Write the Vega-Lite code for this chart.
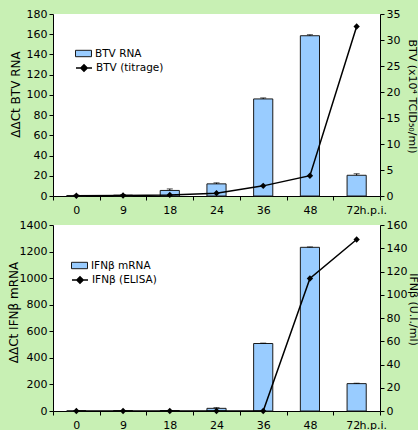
{
  "$schema": "https://vega.github.io/schema/vega-lite/v6.json",
  "background": "#c8f0b4",
  "autosize": {"type": "pad"},
  "padding": {"left": 7, "top": 8, "right": 0, "bottom": 0},
  "bounds": "flush",
  "spacing": 29,
  "config": {
    "font": "DejaVu Sans",
    "view": {"fill": "white", "stroke": null},
    "axis": {
      "grid": false,
      "domainColor": "black",
      "tickColor": "black",
      "labelColor": "black",
      "titleColor": "black",
      "labelFont": "DejaVu Sans",
      "titleFont": "DejaVu Sans",
      "labelFontSize": 11,
      "titleFontWeight": "normal",
      "tickSize": 4,
      "labelPadding": 2
    },
    "legend": {
      "labelFont": "DejaVu Sans",
      "labelFontSize": 10.5,
      "labelColor": "black",
      "padding": 0,
      "labelOffset": 3,
      "title": null
    }
  },
  "datasets": {
    "btv": [
      {"hpi": "0", "rna": 0.5, "err": 0.3, "titer": 0.05},
      {"hpi": "9", "rna": 0.8, "err": 0.3, "titer": 0.1},
      {"hpi": "18", "rna": 5.5, "err": 1.5, "titer": 0.2},
      {"hpi": "24", "rna": 12, "err": 1, "titer": 0.55},
      {"hpi": "36", "rna": 96, "err": 1, "titer": 1.95},
      {"hpi": "48", "rna": 158.5, "err": 1, "titer": 3.9},
      {"hpi": "72", "rna": 20.5, "err": 1.5, "titer": 32.6}
    ],
    "ifn": [
      {"hpi": "0", "mrna": 1, "err": 1, "elisa": 0},
      {"hpi": "9", "mrna": 2, "err": 1, "elisa": 0},
      {"hpi": "18", "mrna": 3, "err": 1, "elisa": 0},
      {"hpi": "24", "mrna": 20, "err": 5, "elisa": 0},
      {"hpi": "36", "mrna": 508, "err": 3, "elisa": 0},
      {"hpi": "48", "mrna": 1232, "err": 3, "elisa": 114},
      {"hpi": "72", "mrna": 206, "err": 3, "elisa": 147.5}
    ]
  },
  "resolve": {
    "scale": {"fill": "independent", "stroke": "independent", "y": "independent", "x": "independent"},
    "legend": {"fill": "independent", "stroke": "independent"}
  },
  "vconcat": [
    {
      "width": 327,
      "height": 182,
      "data": {"name": "btv"},
      "encoding": {
        "x": {
          "field": "hpi", "type": "ordinal", "sort": null,
          "scale": {"type": "band", "paddingInner": 0, "paddingOuter": 0},
          "axis": {
            "labelAngle": 0, "tickBand": "extent",
            "labelOffset": {"condition": {"test": "datum.value == '72'", "value": -4}, "value": 0},
            "title": "h.p.i.", "titleX": 306, "titleY": 17, "titleAlign": "left",
            "titleBaseline": "alphabetic", "titleAngle": 0, "titleFontSize": 11,
            "labelPadding": 4
          }
        }
      },
      "layer": [
        {
          "encoding": {
            "y": {
              "type": "quantitative",
              "scale": {"domain": [0, 180]},
              "axis": {
                "orient": "left",
                "values": [0, 20, 40, 60, 80, 100, 120, 140, 160, 180],
                "title": "ΔΔCt BTV RNA", "titleFontSize": 12,
                "titleX": -38, "titleY": 80, "titleAngle": -90,
                "titleAlign": "center", "titleBaseline": "middle"
              }
            }
          },
          "layer": [
            {
              "mark": {"type": "bar", "stroke": "#1a1a1a", "strokeWidth": 1, "width": {"band": 0.41}},
              "encoding": {
                "y": {"field": "rna", "type": "quantitative"},
                "fill": {
                  "datum": "BTV RNA",
                  "scale": {"range": ["#99ccff"]},
                  "legend": {
                    "orient": "none", "legendX": 22, "legendY": 31,
                    "symbolType": "M-1,-0.4H1V0.4H-1Z", "symbolSize": 256,
                    "symbolStrokeColor": "#1a1a1a", "symbolStrokeWidth": 1
                  }
                }
              }
            },
            {
              "transform": [{"calculate": "datum.rna + datum.err", "as": "hi"}],
              "mark": {"type": "rule", "color": "black", "strokeWidth": 1},
              "encoding": {
                "y": {"field": "rna", "type": "quantitative"},
                "y2": {"field": "hi"}
              }
            },
            {
              "transform": [{"calculate": "datum.rna + datum.err", "as": "hi"}],
              "mark": {"type": "tick", "color": "black", "size": 6, "thickness": 1},
              "encoding": {
                "y": {"field": "hi", "type": "quantitative"}
              }
            }
          ]
        },
        {
          "encoding": {
            "y": {
              "field": "titer",
              "type": "quantitative",
              "scale": {"domain": [0, 35]},
              "axis": {
                "orient": "right",
                "values": [0, 5, 10, 15, 20, 25, 30, 35],
                "title": "BTV (x10⁴ TCID₅₀/ml)", "titleFontSize": 11,
                "titleX": 31, "titleY": 82, "titleAngle": 90,
                "titleAlign": "center", "titleBaseline": "middle"
              }
            }
          },
          "layer": [
            {
              "mark": {"type": "line", "strokeWidth": 1.5},
              "encoding": {
                "stroke": {
                  "datum": "BTV (titrage)",
                  "scale": {"range": ["black"]},
                  "legend": {
                    "orient": "none", "legendX": 22, "legendY": 45,
                    "symbolType": "M-1,0H1M-0.4,0L0,-0.4L0.4,0L0,0.4Z", "symbolSize": 256,
                    "symbolFillColor": "black", "symbolStrokeWidth": 1.5
                  }
                }
              }
            },
            {
              "mark": {"type": "point", "shape": "diamond", "filled": true, "color": "black", "size": 40, "opacity": 1}
            }
          ]
        }
      ],
      "resolve": {"scale": {"y": "independent"}}
    },
    {
      "width": 327,
      "height": 186,
      "data": {"name": "ifn"},
      "encoding": {
        "x": {
          "field": "hpi", "type": "ordinal", "sort": null,
          "scale": {"type": "band", "paddingInner": 0, "paddingOuter": 0},
          "axis": {
            "labelAngle": 0, "tickBand": "extent",
            "labelOffset": {"condition": {"test": "datum.value == '72'", "value": -4}, "value": 0},
            "title": "h.p.i.", "titleX": 306, "titleY": 17, "titleAlign": "left",
            "titleBaseline": "alphabetic", "titleAngle": 0, "titleFontSize": 11,
            "labelPadding": 4
          }
        }
      },
      "layer": [
        {
          "encoding": {
            "y": {
              "type": "quantitative",
              "scale": {"domain": [0, 1400]},
              "axis": {
                "orient": "left",
                "format": "d",
                "values": [0, 200, 400, 600, 800, 1000, 1200, 1400],
                "title": "ΔΔCt IFNβ mRNA", "titleFontSize": 12,
                "titleX": -40, "titleY": 87, "titleAngle": -90,
                "titleAlign": "center", "titleBaseline": "middle"
              }
            }
          },
          "layer": [
            {
              "mark": {"type": "bar", "stroke": "#1a1a1a", "strokeWidth": 1, "width": {"band": 0.41}},
              "encoding": {
                "y": {"field": "mrna", "type": "quantitative"},
                "fill": {
                  "datum": "IFNβ mRNA",
                  "scale": {"range": ["#99ccff"]},
                  "legend": {
                    "orient": "none", "legendX": 18, "legendY": 32,
                    "symbolType": "M-1,-0.4H1V0.4H-1Z", "symbolSize": 256,
                    "symbolStrokeColor": "#1a1a1a", "symbolStrokeWidth": 1
                  }
                }
              }
            },
            {
              "transform": [{"calculate": "datum.mrna + datum.err", "as": "hi"}],
              "mark": {"type": "rule", "color": "black", "strokeWidth": 1},
              "encoding": {
                "y": {"field": "mrna", "type": "quantitative"},
                "y2": {"field": "hi"}
              }
            },
            {
              "transform": [{"calculate": "datum.mrna + datum.err", "as": "hi"}],
              "mark": {"type": "tick", "color": "black", "size": 6, "thickness": 1},
              "encoding": {
                "y": {"field": "hi", "type": "quantitative"}
              }
            }
          ]
        },
        {
          "encoding": {
            "y": {
              "field": "elisa",
              "type": "quantitative",
              "scale": {"domain": [0, 160]},
              "axis": {
                "orient": "right",
                "values": [0, 20, 40, 60, 80, 100, 120, 140, 160],
                "title": "IFNβ (U.I./ml)", "titleFontSize": 11,
                "titleX": 32, "titleY": 84, "titleAngle": 90,
                "titleAlign": "center", "titleBaseline": "middle"
              }
            }
          },
          "layer": [
            {
              "mark": {"type": "line", "strokeWidth": 1.5},
              "encoding": {
                "stroke": {
                  "datum": "IFNβ (ELISA)",
                  "scale": {"range": ["black"]},
                  "legend": {
                    "orient": "none", "legendX": 18, "legendY": 46,
                    "symbolType": "M-1,0H1M-0.4,0L0,-0.4L0.4,0L0,0.4Z", "symbolSize": 256,
                    "symbolFillColor": "black", "symbolStrokeWidth": 1.5
                  }
                }
              }
            },
            {
              "mark": {"type": "point", "shape": "diamond", "filled": true, "color": "black", "size": 40, "opacity": 1}
            }
          ]
        }
      ],
      "resolve": {"scale": {"y": "independent"}}
    }
  ]
}
